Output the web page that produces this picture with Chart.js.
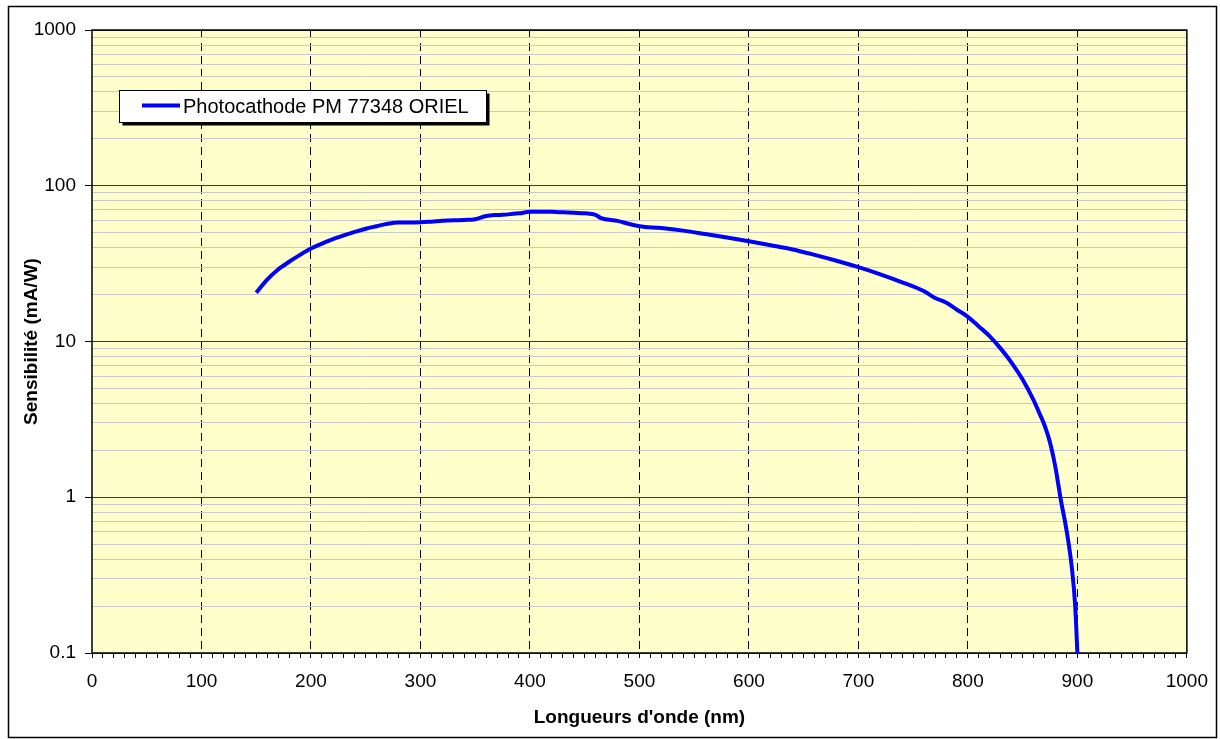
<!DOCTYPE html>
<html>
<head>
<meta charset="utf-8">
<script src="https://cdn.jsdelivr.net/npm/chart.js@4/dist/chart.umd.min.js"></script>
<style>
  html, body { margin: 0; padding: 0; background: #ffffff; }
  #wrap { width: 1220px; height: 739px; position: relative; }
</style>
</head>
<body>
<div id="wrap"><canvas id="c" width="1220" height="739"></canvas></div>
<script>
// ---- data ----
const seriesName = 'Photocathode PM 77348 ORIEL';
const wavelengths = [150,160,170,180,190,200,210,220,230,240,250,260,270,280,290,300,310,320,330,340,350,360,370,380,390,400,410,420,430,440,450,460,465,480,490,500,520,540,560,580,600,620,640,660,680,700,720,740,760,770,780,790,800,810,820,830,840,850,860,865,870,875,880,885,890,895,898,900];
const sensitivity = [20.6,25,29,32.5,36,39.5,42.5,45.5,48,50.5,53,55,57,58,58,58.2,58.8,59.5,60,60.3,61,64,65,65.5,66.5,68,68,68,67.5,67,66.5,65,62,59.5,57,55,53.5,51.5,49,46.5,44,41.5,39,36,33,30,27,24,21,19,17.8,16,14.4,12.5,10.8,9,7.3,5.7,4.2,3.5,2.9,2.25,1.55,0.95,0.62,0.35,0.2,0.1];
const yDecades = [0.1, 1, 10, 100, 1000];
const yTickLabels = ['0.1', '1', '10', '100', '1000'];
const xTickValues = [0,100,200,300,400,500,600,700,800,900,1000];
const xTickLabels = ['0','100','200','300','400','500','600','700','800','900','1000'];
const xTitle = "Longueurs d'onde (nm)";
const yTitle = 'Sensibilité (mA/W)';

const FONT = 'Arial, "Liberation Sans", sans-serif';

const points = wavelengths.map((w, i) => ({ x: w, y: sensitivity[i] }));

function isDecade(v) {
  return yDecades.some(d => Math.abs(v - d) < d * 1e-6);
}

const decorPlugin = {
  id: 'decor',
  beforeDraw(chart) {
    const { ctx, chartArea: a } = chart;
    ctx.save();
    ctx.fillStyle = '#ffffff';
    ctx.fillRect(0, 0, chart.width, chart.height);
    ctx.fillStyle = '#FFFFCC';
    ctx.fillRect(a.left, a.top, a.right - a.left, a.bottom - a.top);
    // outer frame
    ctx.strokeStyle = '#000000';
    ctx.lineWidth = 1.5;
    ctx.strokeRect(8.5, 6.5, 1208, 731);
    ctx.restore();
  },
  beforeDatasetsDraw(chart) {
    const { ctx, chartArea: a } = chart;
    ctx.save();
    ctx.strokeStyle = '#000000';
    ctx.lineWidth = 1.5;
    ctx.strokeRect(a.left, a.top, a.right - a.left, a.bottom - a.top);
    ctx.restore();
  },
  afterDraw(chart) {
    const { ctx } = chart;
    // legend box with shadow
    const bx = 119.5, by = 90.5, bw = 367, bh = 32;
    ctx.save();
    ctx.fillStyle = '#000000';
    ctx.fillRect(bx + 3, by + 3, bw, bh);
    ctx.fillStyle = '#ffffff';
    ctx.fillRect(bx, by, bw, bh);
    ctx.strokeStyle = '#000000';
    ctx.lineWidth = 1;
    ctx.strokeRect(bx, by, bw, bh);
    ctx.strokeStyle = '#0000FF';
    ctx.lineWidth = 4;
    ctx.beginPath();
    ctx.moveTo(142, 105.5);
    ctx.lineTo(180, 105.5);
    ctx.stroke();
    ctx.fillStyle = '#000000';
    ctx.font = '20px ' + FONT;
    ctx.textBaseline = 'middle';
    ctx.textAlign = 'left';
    ctx.fillText(seriesName, 183, 107);
    ctx.restore();
  }
};

new Chart(document.getElementById('c'), {
  type: 'scatter',
  data: {
    datasets: [{
      label: seriesName,
      data: points,
      showLine: true,
      borderColor: '#0000FF',
      backgroundColor: '#0000FF',
      borderWidth: 4,
      pointRadius: 0,
      pointHoverRadius: 0,
      cubicInterpolationMode: 'monotone',
      fill: false
    }]
  },
  options: {
    responsive: false,
    animation: false,
    devicePixelRatio: 1,
    layout: { padding: { left: 0, top: 30, right: 33, bottom: 0 } },
    plugins: {
      legend: { display: false },
      tooltip: { enabled: false }
    },
    scales: {
      x: {
        type: 'linear',
        min: 0,
        max: 1000,
        afterFit(scale) { scale.height = 86; },
        ticks: {
          stepSize: 10,
          autoSkip: false,
          maxRotation: 0,
          padding: 12,
          color: '#000000',
          font: { family: FONT, size: 19 },
          callback(v) {
            const i = xTickValues.indexOf(v);
            return i >= 0 ? xTickLabels[i] : '';
          }
        },
        grid: {
          color(ctx) {
            const v = ctx.tick && ctx.tick.value;
            return (v % 100 === 0 && v !== 0 && v !== 1000) ? '#000000' : 'rgba(0,0,0,0)';
          },
          lineWidth: 1,
          tickColor: '#000000',
          tickLength: 5,
          tickWidth: 1,
          tickBorderDash: []
        },
        border: { display: false, dash: [8, 5] },
        title: {
          display: true,
          text: xTitle,
          color: '#000000',
          font: { family: FONT, size: 19, weight: 'bold' },
          padding: { top: 0, bottom: 10 }
        }
      },
      y: {
        type: 'logarithmic',
        min: 0.1,
        max: 1000,
        afterFit(scale) { scale.width = 92; },
        afterBuildTicks(scale) {
          const t = [];
          yDecades.forEach((d, i) => {
            if (i === yDecades.length - 1) { t.push({ value: d }); return; }
            for (let m = 1; m <= 9; m++) t.push({ value: +(d * m).toPrecision(6) });
          });
          scale.ticks = t;
        },
        ticks: {
          autoSkip: false,
          padding: 9,
          color: '#000000',
          font: { family: FONT, size: 19 },
          callback(v) {
            const i = yDecades.findIndex(d => Math.abs(v - d) < d * 1e-6);
            return i >= 0 ? yTickLabels[i] : '';
          }
        },
        grid: {
          color(ctx) {
            const v = ctx.tick && ctx.tick.value;
            if (v === undefined) return 'rgba(0,0,0,0)';
            return isDecade(v) ? '#3a3a3a' : '#C8C8C8';
          },
          lineWidth: 1,
          tickColor(ctx) {
            const v = ctx.tick && ctx.tick.value;
            return (v !== undefined && isDecade(v)) ? '#000000' : 'rgba(0,0,0,0)';
          },
          tickLength: 7,
          tickWidth: 1
        },
        border: { display: false },
        title: {
          display: true,
          text: yTitle,
          color: '#000000',
          font: { family: FONT, size: 19, weight: 'bold' },
          padding: { top: 20, bottom: 0 }
        }
      }
    }
  },
  plugins: [decorPlugin]
});
</script>
</body>
</html>
